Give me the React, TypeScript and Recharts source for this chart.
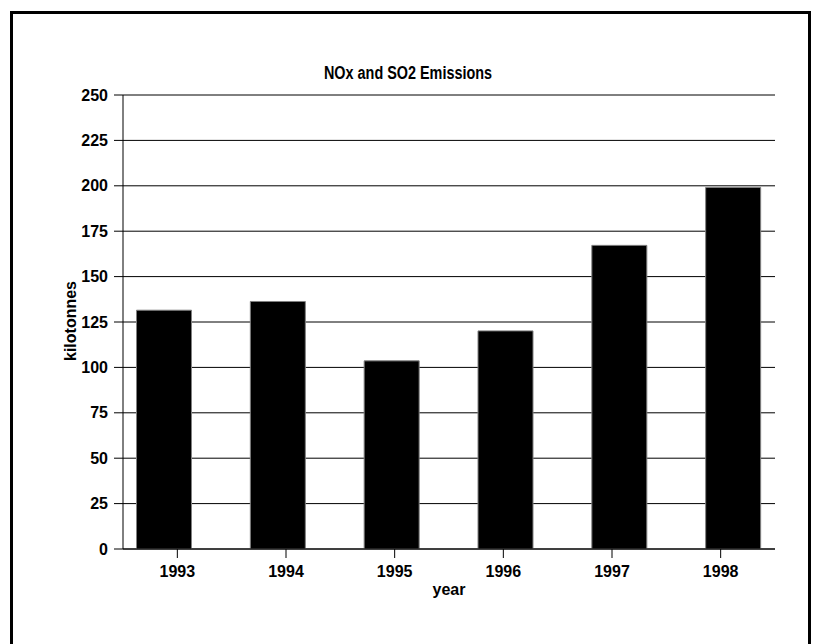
import React from 'react';
import { BarChart, Bar, XAxis, YAxis, CartesianGrid } from 'recharts';

const years = ['1993', '1994', '1995', '1996', '1997', '1998'];
const emissions = [131.5, 136.3, 103.6, 120.1, 167.2, 199.1];
const yTicks = [0, 25, 50, 75, 100, 125, 150, 175, 200, 225, 250];

const data = years.map((year, i) => ({ year, value: emissions[i] }));

const FONT = '"Liberation Sans", Arial, Helvetica, sans-serif';
const tickStyle = { fontSize: 16, fontWeight: 'bold' as const, fill: '#000', fontFamily: FONT };

export default function App() {
  return (
    <div
      style={{
        position: 'absolute',
        left: 0,
        top: 0,
        width: 813,
        height: 644,
        overflow: 'hidden',
        background: '#fff',
        fontFamily: FONT,
      }}
    >
      <div
        style={{
          position: 'absolute',
          left: 10,
          top: 11,
          width: 795,
          height: 700,
          border: '3px solid #000',
          boxSizing: 'content-box',
        }}
      />
      <div
        style={{
          position: 'absolute',
          left: 408,
          top: 63,
          transform: 'translateX(-50%) scaleX(0.8)',
          fontWeight: 'bold',
          fontSize: 18,
          color: '#000',
          whiteSpace: 'nowrap',
        }}
      >
        NOx and SO2 Emissions
      </div>
      <div
        style={{
          position: 'absolute',
          left: 71,
          top: 321,
          transform: 'translate(-50%, -50%) rotate(-90deg)',
          fontWeight: 'bold',
          fontSize: 16,
          lineHeight: '16px',
          whiteSpace: 'nowrap',
          color: '#000',
        }}
      >
        kilotonnes
      </div>
      <div
        style={{
          position: 'absolute',
          left: 449,
          top: 582,
          transform: 'translateX(-50%)',
          fontWeight: 'bold',
          fontSize: 16,
          lineHeight: '16px',
          whiteSpace: 'nowrap',
          color: '#000',
        }}
      >
        year
      </div>
      <div style={{ position: 'absolute', left: 0, top: 0 }}>
        <BarChart
          width={813}
          height={644}
          data={data}
          margin={{ top: 95, right: 38, bottom: 55, left: 63 }}
        >
          <CartesianGrid vertical={false} stroke="#000" strokeWidth={1} yAxisId="left" xAxisId="labels" />
          <XAxis
            xAxisId="labels"
            dataKey="year"
            height={40}
            tickSize={9}
            tickMargin={8}
            tick={tickStyle}
            axisLine={{ stroke: '#000' }}
            tickLine={{ stroke: '#000' }}
            interval={0}
          />
          <XAxis
            xAxisId="bars"
            dataKey="year"
            hide
            height={0}
            padding={{ left: -15.5, right: -15.5 }}
          />
          <YAxis
            yAxisId="left"
            width={60}
            domain={[0, 250]}
            ticks={yTicks}
            tickSize={9}
            tickMargin={6}
            tick={tickStyle}
            axisLine={{ stroke: '#000' }}
            tickLine={{ stroke: '#000' }}
            interval={0}
            allowDataOverflow
          />
          <YAxis
            yAxisId="right"
            orientation="right"
            width={0}
            domain={[0, 250]}
            ticks={yTicks}
            tick={false}
            tickLine={false}
            axisLine={{ stroke: '#000' }}
          />
          <Bar
            xAxisId="bars"
            yAxisId="left"
            dataKey="value"
            fill="#000"
            stroke="#808080"
            strokeWidth={1}
            barSize={55}
            isAnimationActive={false}
          />
        </BarChart>
      </div>
    </div>
  );
}
